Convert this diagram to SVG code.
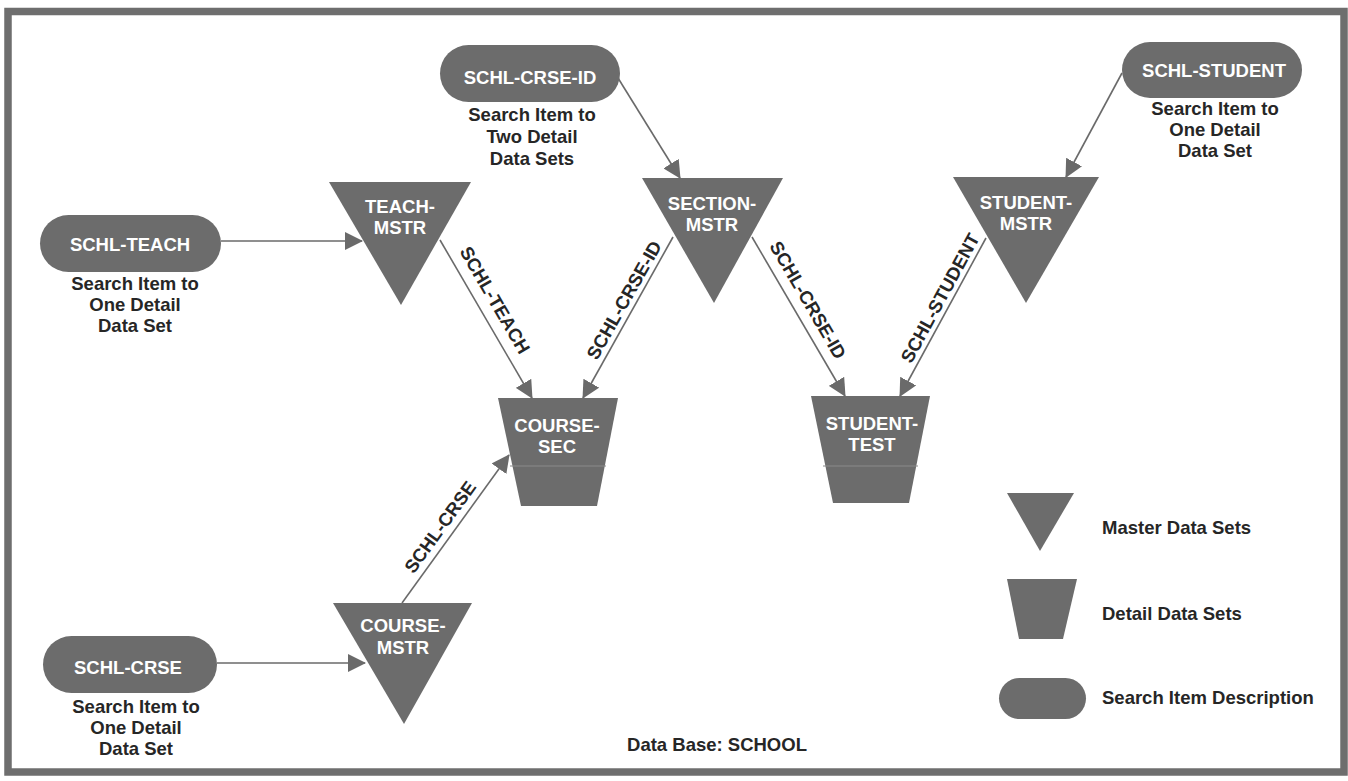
<svg xmlns="http://www.w3.org/2000/svg" width="1348" height="781" viewBox="0 0 1348 781">
<defs>
<style>
.shape{fill:#6c6c6c;}
.lbl{font-family:"Liberation Sans",Arial,sans-serif;font-weight:bold;font-size:18.5px;fill:#ffffff;text-anchor:middle;}
.desc{font-family:"Liberation Sans",Arial,sans-serif;font-weight:bold;font-size:18.5px;fill:#262626;text-anchor:middle;}
.leg{font-family:"Liberation Sans",Arial,sans-serif;font-weight:bold;font-size:18.5px;fill:#262626;}
.conn{stroke:#6a6a6a;stroke-width:1.6;fill:none;marker-end:url(#ah);}
.div{stroke:#8a8a8a;stroke-width:1.2;}
</style>
<marker id="ah" viewBox="0 0 18 18" refX="17" refY="9" markerWidth="18" markerHeight="18" markerUnits="userSpaceOnUse" orient="auto">
<path d="M0,0 L18,9 L0,18 z" fill="#6a6a6a"/>
</marker>
</defs>
<rect x="0" y="0" width="1348" height="781" fill="#ffffff"/>
<rect x="8" y="11.5" width="1336" height="760.5" fill="none" stroke="#6e6e6e" stroke-width="7.5"/>

<g id="connectors">
<line class="conn" x1="221" y1="241" x2="362" y2="241"/>
<line class="conn" x1="217" y1="663" x2="365" y2="663"/>
<line class="conn" x1="618" y1="78" x2="680" y2="178"/>
<line class="conn" x1="1122" y1="73" x2="1066" y2="177"/>
<line class="conn" x1="440" y1="240" x2="532" y2="398"/>
<line class="conn" x1="673" y1="237" x2="583" y2="398"/>
<line class="conn" x1="752" y1="237" x2="845" y2="396"/>
<line class="conn" x1="986" y1="238" x2="900" y2="396"/>
<line class="conn" x1="402" y1="603" x2="509" y2="455"/>
<text class="desc" transform="translate(495,300) rotate(59.8)" y="6.5">SCHL-TEACH</text>
<text class="desc" transform="translate(624,300) rotate(-60.5)" y="6.5">SCHL-CRSE-ID</text>
<text class="desc" transform="translate(808,300) rotate(59.7)" y="6.5">SCHL-CRSE-ID</text>
<text class="desc" transform="translate(940,298) rotate(-61.4)" y="6.5">SCHL-STUDENT</text>
<text class="desc" transform="translate(440,527) rotate(-54.1)" y="6.5">SCHL-CRSE</text>
</g>

<g id="schl-teach">
<rect class="shape" x="40" y="215" width="181" height="57" rx="28.5"/>
<text class="lbl" x="130" y="250.5">SCHL-TEACH</text>
<text class="desc" x="135" y="289.5">Search Item to</text>
<text class="desc" x="135" y="310.5">One Detail</text>
<text class="desc" x="135" y="332">Data Set</text>
</g>

<g id="schl-crse">
<rect class="shape" x="43" y="636" width="174" height="57" rx="28.5"/>
<text class="lbl" x="128" y="673.5">SCHL-CRSE</text>
<text class="desc" x="136" y="712.5">Search Item to</text>
<text class="desc" x="136" y="733.5">One Detail</text>
<text class="desc" x="136" y="754.5">Data Set</text>
</g>

<g id="schl-crse-id">
<rect class="shape" x="440" y="45" width="180" height="57" rx="28.5"/>
<text class="lbl" x="530" y="83.5">SCHL-CRSE-ID</text>
<text class="desc" x="532" y="120.5">Search Item to</text>
<text class="desc" x="532" y="143">Two Detail</text>
<text class="desc" x="532" y="165">Data Sets</text>
</g>

<g id="schl-student">
<rect class="shape" x="1122" y="42" width="180" height="56" rx="28"/>
<text class="lbl" x="1214" y="76.5">SCHL-STUDENT</text>
<text class="desc" x="1215" y="114.5">Search Item to</text>
<text class="desc" x="1215" y="136">One Detail</text>
<text class="desc" x="1215" y="157">Data Set</text>
</g>

<g id="teach-mstr">
<polygon class="shape" points="329,182 471,182 401,305"/>
<text class="lbl" x="400" y="212.5">TEACH-</text>
<text class="lbl" x="400" y="233.5">MSTR</text>
</g>

<g id="section-mstr">
<polygon class="shape" points="642,178 783,178 714,303"/>
<text class="lbl" x="712" y="210">SECTION-</text>
<text class="lbl" x="712" y="230.5">MSTR</text>
</g>

<g id="student-mstr">
<polygon class="shape" points="953,177 1099,177 1026,303"/>
<text class="lbl" x="1026" y="208.5">STUDENT-</text>
<text class="lbl" x="1026" y="229.5">MSTR</text>
</g>

<g id="course-mstr">
<polygon class="shape" points="333,603 472,603 404,724"/>
<text class="lbl" x="403" y="631.5">COURSE-</text>
<text class="lbl" x="403" y="653.5">MSTR</text>
</g>

<g id="course-sec">
<polygon class="shape" points="498,398 618,398 597,506 521,506"/>
<line class="div" x1="510" y1="466" x2="606" y2="466"/>
<text class="lbl" x="557" y="432">COURSE-</text>
<text class="lbl" x="557" y="452.5">SEC</text>
</g>

<g id="student-test">
<polygon class="shape" points="811,396 930,396 909,503 833,503"/>
<line class="div" x1="823" y1="466" x2="918" y2="466"/>
<text class="lbl" x="872" y="430">STUDENT-</text>
<text class="lbl" x="872" y="450.5">TEST</text>
</g>

<g id="legend">
<polygon class="shape" points="1007,493 1074,493 1040,551"/>
<text class="leg" x="1102" y="533.5">Master Data Sets</text>
<polygon class="shape" points="1007,579 1077,579 1063,639 1019,639"/>
<text class="leg" x="1102" y="619.5">Detail Data Sets</text>
<rect class="shape" x="999" y="678" width="87" height="41" rx="20.5"/>
<text class="leg" x="1102" y="703.5">Search Item Description</text>
</g>

<text class="desc" x="717" y="750.5">Data Base: SCHOOL</text>
</svg>
